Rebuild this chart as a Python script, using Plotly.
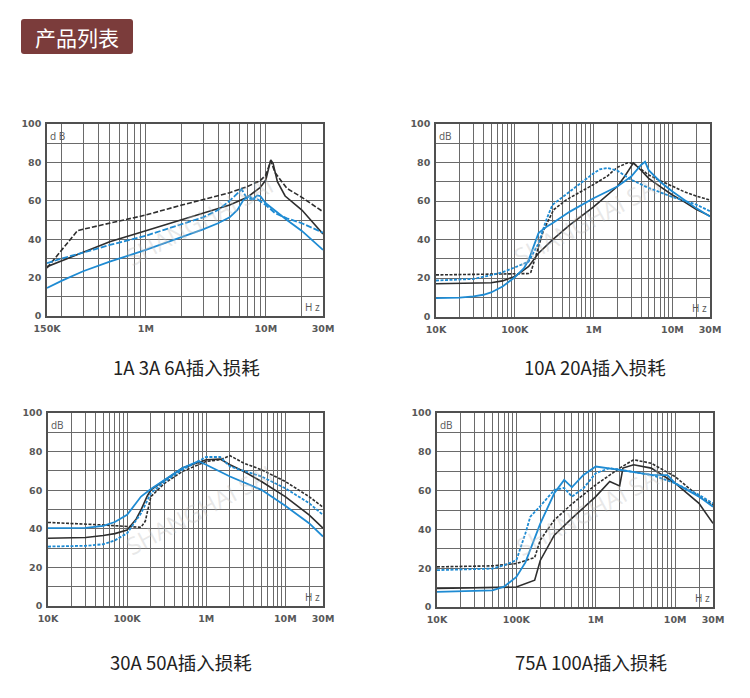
import math
import plotly.graph_objects as go

BLACK = "#2e2e2e"
BLUE = "#1e8bd3"

# ---------------- data ----------------
# Chart 1: 1A 3A 6A
c1_bd_f = [150e3, 200e3, 270e3, 300e3, 1e6, 2e6, 3e6, 5e6, 7e6, 9e6, 10e6, 11e6, 12e6, 15e6, 20e6, 30e6]
c1_bd_y = [25, 34.8, 44.5, 45.2, 52.6, 57.8, 60.8, 64.2, 67.4, 70.5, 73.4, 80.7, 74.5, 66.5, 61.8, 54.3]
c1_bs_f = [150e3, 200e3, 300e3, 500e3, 1e6, 2e6, 3e6, 5e6, 7e6, 9e6, 10e6, 10.5e6, 11e6, 11.5e6, 12.5e6, 14.5e6, 20e6, 30e6]
c1_bs_y = [25.7, 28.8, 33.5, 38.7, 44.4, 50.3, 53.8, 57.8, 61.8, 67, 70.8, 76, 81.3, 79.5, 70, 62.5, 55.2, 42.7]
c1_ud_f = [150e3, 200e3, 300e3, 500e3, 1e6, 2e6, 3e6, 4e6, 5e6, 6.3e6, 7e6, 8.5e6, 10e6, 12e6, 15e6, 20e6, 30e6]
c1_ud_y = [27.5, 30, 33, 37, 41.8, 47.7, 51.4, 55.2, 60, 66, 61, 60.8, 57.8, 53.5, 50.9, 48.3, 43.4]
c1_us_f = [150e3, 200e3, 300e3, 500e3, 1e6, 2e6, 3e6, 4e6, 5e6, 5.8e6, 6.5e6, 7.3e6, 7.8e6, 8.5e6, 9e6, 10e6, 12e6, 15e6, 20e6, 30e6]
c1_us_y = [14.6, 18.4, 23.3, 28.3, 34.4, 41, 45.1, 48.3, 51.4, 55.2, 60.4, 62.5, 60.8, 62.8, 62.5, 58.7, 54.7, 50, 44.3, 34.4]

# Chart 2: 10A 20A
c2_bd_f = [10e3, 50e3, 100e3, 150e3, 160e3, 230e3, 310e3, 450e3, 1e6, 1.5e6, 2e6, 2.7e6, 3.2e6, 4e6, 5e6, 7e6, 10e6, 14e6, 20e6, 30e6]
c2_bd_y = [21.6, 21.8, 22, 22.3, 23, 44.5, 55.4, 60.6, 68.6, 73, 77.5, 79.8, 79.6, 76.5, 73.5, 70.6, 67.8, 64.9, 62.6, 60.5]
c2_bs_f = [10e3, 30e3, 50e3, 70e3, 100e3, 150e3, 200e3, 300e3, 500e3, 1e6, 2e6, 2.5e6, 3.2e6, 4e6, 5e6, 7e6, 10e6, 14e6, 20e6, 30e6]
c2_bs_y = [17, 17.2, 17.5, 18.5, 20.8, 26, 32.9, 39.8, 47.6, 57, 67.5, 73, 79.8, 76, 71.8, 67.5, 63.1, 59.7, 55.7, 52.2]
c2_ud_f = [10e3, 30e3, 50e3, 70e3, 100e3, 150e3, 200e3, 250e3, 300e3, 500e3, 1e6, 1.2e6, 1.5e6, 2e6, 3e6, 5e6, 10e6, 20e6, 30e6]
c2_ud_y = [18.7, 19.5, 21.5, 23, 25.5, 28.5, 38, 50, 58, 65, 74.4, 76.5, 77.2, 75.8, 71, 66.8, 62.1, 58.2, 54.7]
c2_us_f = [10e3, 20e3, 30e3, 40e3, 50e3, 70e3, 100e3, 130e3, 150e3, 180e3, 200e3, 250e3, 300e3, 500e3, 1e6, 2e6, 3e6, 4e6, 4.5e6, 5e6, 7e6, 10e6, 14e6, 20e6, 30e6]
c2_us_y = [9.5, 9.8, 10.4, 11.3, 12.5, 15.6, 20.4, 25, 29.4, 38, 43.3, 46.5, 48.4, 54.5, 61.4, 67.5, 72.7, 78.7, 80.4, 76, 70, 64.9, 60.6, 56.3, 51.9]

# Chart 3: 30A 50A
c3_bd_f = [10e3, 30e3, 50e3, 100e3, 150e3, 170e3, 200e3, 300e3, 500e3, 1e6, 1.5e6, 2e6, 3e6, 5e6, 10e6, 20e6, 30e6]
c3_bd_y = [43.3, 42.5, 42, 41.2, 40.8, 44, 56.7, 63.7, 69.7, 74.9, 75.8, 77.9, 74, 70.6, 64.5, 56.7, 51.2]
c3_bs_f = [10e3, 30e3, 50e3, 70e3, 100e3, 130e3, 150e3, 180e3, 200e3, 300e3, 500e3, 1e6, 1.5e6, 2e6, 3e6, 5e6, 10e6, 20e6, 30e6]
c3_bs_y = [35.1, 35.5, 36.5, 37.5, 39.4, 45, 49.8, 57, 60.2, 65.4, 71.5, 75.8, 76.1, 73.2, 69.7, 64.5, 56.7, 47.2, 40.3]
c3_us_f = [10e3, 30e3, 50e3, 70e3, 100e3, 130e3, 150e3, 200e3, 300e3, 500e3, 800e3, 1e6, 2e6, 5e6, 10e6, 20e6, 30e6]
c3_us_y = [40.3, 40.5, 41.5, 43.5, 47.2, 53, 56.7, 60.6, 65.4, 71.5, 75, 73.2, 67.1, 60.2, 51.9, 42.9, 36]
c3_ud_f = [10e3, 30e3, 50e3, 70e3, 100e3, 130e3, 150e3, 200e3, 300e3, 500e3, 1e6, 1.5e6, 2e6, 5e6, 10e6, 20e6, 30e6]
c3_ud_y = [30.8, 31.2, 32, 34, 37.7, 44, 48, 58.5, 64.5, 70.6, 77.2, 77.2, 72.3, 67.1, 61, 53.3, 47.2]

# Chart 4: 75A 100A
c4_bd_f = [10e3, 50e3, 100e3, 170e3, 200e3, 300e3, 500e3, 1e6, 1.5e6, 2e6, 3e6, 5e6, 10e6, 20e6, 30e6]
c4_bd_y = [20.7, 21.2, 22.4, 25.5, 34.5, 44.8, 53.1, 63, 68, 71.6, 75.9, 74.1, 67.2, 56.9, 52.6]
c4_bs_f = [10e3, 50e3, 100e3, 170e3, 200e3, 300e3, 500e3, 1e6, 1.5e6, 2e6, 2.2e6, 3e6, 5e6, 10e6, 20e6, 30e6]
c4_bs_y = [9.5, 9.8, 10.3, 13.8, 24, 37, 45.7, 56.9, 64.7, 62.4, 71.6, 73.3, 71.6, 63.8, 53.4, 43.1]
c4_ud_f = [10e3, 50e3, 70e3, 100e3, 130e3, 150e3, 200e3, 300e3, 400e3, 500e3, 700e3, 1e6, 1.5e6, 2e6, 5e6, 10e6, 20e6, 30e6]
c4_ud_y = [19, 19.8, 21.5, 24.1, 38, 46.6, 52, 60.3, 61.4, 56.9, 61.2, 69, 71.6, 70.7, 68.1, 63.8, 57.8, 53.4]
c4_us_f = [10e3, 50e3, 70e3, 100e3, 130e3, 150e3, 200e3, 300e3, 400e3, 500e3, 700e3, 1e6, 1.5e6, 2e6, 5e6, 8e6, 10e6, 20e6, 30e6]
c4_us_y = [7.8, 8.6, 10.5, 15.5, 23, 29.3, 43, 58.6, 65.5, 61.7, 68.1, 72.4, 71.6, 70.7, 68.1, 68, 63.8, 56.9, 51.7]

titles = ["1A 3A 6A插入损耗", "10A 20A插入损耗", "30A 50A插入损耗", "75A 100A插入损耗"]
header = "产品列表"
db_labels = ["d B", "dB", "dB", "dB"]
hz_label = "H z"
x_start = [150e3, 10e3, 10e3, 10e3]
x_end = 30e6
x_labels_1 = {150e3: "150K", 1e6: "1M", 10e6: "10M", 30e6: "30M"}
x_labels_n = {10e3: "10K", 100e3: "100K", 1e6: "1M", 10e6: "10M", 30e6: "30M"}
y_grid = list(range(0, 101, 10))

# --------------- layout helpers ---------------
OX, OY = 8, 8            # page offset of the figure (body margin)
W, H = 734, 682


def px(x):
    return (x - OX) / W


def py(y):
    return 1 - (y - OY) / H


fig = go.Figure()

# subplot boxes in target pixels: (left, right, top, bottom)
boxes = [(47, 323, 124, 316), (436, 710, 124, 316.5), (48, 323, 413, 606), (437, 713, 413, 607)]
title_pos = [(186, 367), (595, 367), (181, 662), (591, 662)]

series = [
    [(c1_bd_f, c1_bd_y, BLACK, "dash"), (c1_bs_f, c1_bs_y, BLACK, "solid"),
     (c1_ud_f, c1_ud_y, BLUE, "dash"), (c1_us_f, c1_us_y, BLUE, "solid")],
    [(c2_bd_f, c2_bd_y, BLACK, "dot"), (c2_bs_f, c2_bs_y, BLACK, "solid"),
     (c2_ud_f, c2_ud_y, BLUE, "dot"), (c2_us_f, c2_us_y, BLUE, "solid")],
    [(c3_bd_f, c3_bd_y, BLACK, "dot"), (c3_bs_f, c3_bs_y, BLACK, "solid"),
     (c3_ud_f, c3_ud_y, BLUE, "dot"), (c3_us_f, c3_us_y, BLUE, "solid")],
    [(c4_bd_f, c4_bd_y, BLACK, "dot"), (c4_bs_f, c4_bs_y, BLACK, "solid"),
     (c4_ud_f, c4_ud_y, BLUE, "dot"), (c4_us_f, c4_us_y, BLUE, "solid")],
]

tickfont = dict(family="DejaVu Sans, sans-serif", size=9.5, color="#585858", weight="bold")
unitfont = dict(family="Open Sans, sans-serif", size=10, color="#555555")

for i in range(4):
    n = i + 1
    xa = "x" if n == 1 else f"x{n}"
    ya = "y" if n == 1 else f"y{n}"
    l, r, t, b = boxes[i]
    start = x_start[i]
    grid = [start]
    dec = 10 ** math.floor(math.log10(start))
    while dec <= x_end:
        for m in range(1, 10):
            v = m * dec
            if start < v <= x_end:
                grid.append(v)
        dec *= 10
    if x_end not in grid:
        grid.append(x_end)
    labels = x_labels_1 if i == 0 else x_labels_n
    ticktext = [labels.get(v, "") for v in grid]

    fig.update_layout(**{
        ("xaxis" if n == 1 else f"xaxis{n}"): dict(
            type="log", range=[math.log10(start), math.log10(x_end)],
            domain=[px(l), px(r)], anchor=ya,
            tickmode="array", tickvals=grid, ticktext=ticktext,
            showgrid=True, gridcolor="#6a6a6a", gridwidth=1,
            showline=True, mirror=True, linecolor="#505050", linewidth=1.5,
            zeroline=False, ticks="", tickfont=tickfont, ticklabelstandoff=3,
            automargin=False, fixedrange=True,
        ),
        ("yaxis" if n == 1 else f"yaxis{n}"): dict(
            range=[0, 100], domain=[py(b), py(t)], anchor=xa,
            tickmode="array", tickvals=y_grid,
            ticktext=[str(v) if v % 20 == 0 else "" for v in y_grid],
            showgrid=True, gridcolor="#6a6a6a", gridwidth=1,
            showline=True, mirror=True, linecolor="#505050", linewidth=1.5,
            zeroline=False, ticks="", tickfont=tickfont, ticklabelstandoff=2,
            automargin=False, fixedrange=True,
        ),
    })

    for fx, fy, col, dash in series[i]:
        width = 1.6 if col == BLACK else 1.8
        d = dash
        if dash == "dash":
            d = "5px,2px" if col == BLACK else "6px,2px"
        elif dash == "dot":
            d = "3px,1.5px"
        fig.add_trace(go.Scatter(x=fx, y=fy, mode="lines", xaxis=xa, yaxis=ya,
                                 line=dict(color=col, width=width, dash=d),
                                 showlegend=False, hoverinfo="skip"))

    # watermark (faint)
    fig.add_annotation(xref=f"{xa} domain", yref=f"{ya} domain", x=0.55, y=0.5,
                       text="SHANGHAI SAI", showarrow=False, textangle=-28,
                       font=dict(family="Open Sans, sans-serif", size=24, color="rgba(190,190,190,0.35)"))

    # unit labels
    fig.add_annotation(xref=f"{xa} domain", yref=f"{ya} domain", x=0.005, y=0.985,
                       xanchor="left", yanchor="top", text=db_labels[i], showarrow=False,
                       font=unitfont)
    fig.add_annotation(xref=f"{xa} domain", yref=f"{ya} domain", x=0.995, y=0.0,
                       xanchor="right", yanchor="bottom", text=hz_label, showarrow=False,
                       font=unitfont)

    # subtitle
    tx, ty = title_pos[i]
    fig.add_annotation(xref="paper", yref="paper", x=px(tx), y=py(ty),
                       xanchor="center", yanchor="middle", text=titles[i], showarrow=False,
                       font=dict(family="Noto Sans CJK SC, sans-serif", size=18.5, color="#222222"))

# header box with rounded corners (pixel geometry converted to paper units)
bx0, bx1, by0, by1, rad = 21, 133, 19, 54, 3
path = (f"M {px(bx0 + rad)},{py(by0)} L {px(bx1 - rad)},{py(by0)} "
        f"Q {px(bx1)},{py(by0)} {px(bx1)},{py(by0 + rad)} "
        f"L {px(bx1)},{py(by1 - rad)} Q {px(bx1)},{py(by1)} {px(bx1 - rad)},{py(by1)} "
        f"L {px(bx0 + rad)},{py(by1)} Q {px(bx0)},{py(by1)} {px(bx0)},{py(by1 - rad)} "
        f"L {px(bx0)},{py(by0 + rad)} Q {px(bx0)},{py(by0)} {px(bx0 + rad)},{py(by0)} Z")
fig.add_shape(type="path", xref="paper", yref="paper", path=path,
              fillcolor="#7b3c3b", line=dict(width=0), layer="below")
fig.add_annotation(xref="paper", yref="paper", x=px(77), y=py(37),
                   xanchor="center", yanchor="middle", text=header, showarrow=False,
                   font=dict(family="Noto Sans CJK SC, sans-serif", size=21, color="#ffffff"))

fig.update_layout(width=W, height=H, margin=dict(l=0, r=0, t=0, b=0),
                  paper_bgcolor="white", plot_bgcolor="white", showlegend=False)

fig.write_html("out.html")
